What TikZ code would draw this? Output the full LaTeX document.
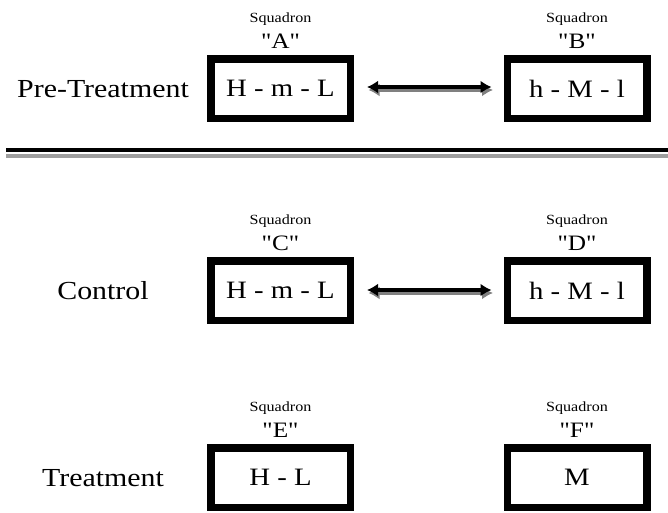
\documentclass[tikz,border=0pt]{standalone}
\usepackage{fontspec}
\setmainfont[FakeStretch=1.15, Ligatures=TeXOff]{Liberation Serif}
\usetikzlibrary{arrows.meta}
\tikzset{
  sqbox/.style={draw=black, line width=7.5pt, minimum width=139.5pt, minimum height=59.5pt, inner sep=0pt, font=\fontsize{25}{30}\selectfont},
  rowlabel/.style={anchor=base, inner sep=0pt, font=\fontsize{26}{30}\selectfont},
  sqname/.style={anchor=base, inner sep=0pt, font=\fontsize{14}{16}\selectfont},
  sqletter/.style={anchor=base, inner sep=0pt, font=\fontsize{22}{24}\selectfont},
  dblarrow/.style={line width=3.5pt, {Latex[length=11pt,width=13pt]}-{Latex[length=11pt,width=13pt]}, shorten <=13pt, shorten >=12pt},
  shadowarrow/.style={dblarrow, draw=black!50, fill=black!50, transform canvas={xshift=1.5pt, yshift=-3pt}}
}
\begin{document}
\begin{tikzpicture}[x=1pt, y=-1pt]
\useasboundingbox (0,0) rectangle (668,512);
% Pre-Treatment row
\node[rowlabel] (lpre) at (103,97) {Pre-Treatment};
\node[sqbox] (A) at (280.5,88.5) {H - m - L};
\node[sqbox] (B) at (577,88.5) {h - M - l};
\node[sqname] (sA) at (280.5,22) {Squadron};
\node[sqletter] (qA) at (280.5,48) {"A"};
\node[sqname] (sB) at (577,22) {Squadron};
\node[sqletter] (qB) at (577,48) {"B"};
\draw[shadowarrow] ([yshift=1.5pt]A.east) -- ([yshift=1.5pt]B.west);
\draw[dblarrow] ([yshift=1.5pt]A.east) -- ([yshift=1.5pt]B.west);
% separator
\coordinate (s1) at (6,150);
\coordinate (s2) at (668,150);
\coordinate (g1) at (6,155.5);
\coordinate (g2) at (668,155.5);
\draw[line width=4pt, black] (s1) -- (s2);
\draw[line width=4pt, black!38] (g1) -- (g2);
% Control row
\node[rowlabel] (lctl) at (103,299) {Control};
\node[sqbox] (C) at (280.5,290.5) {H - m - L};
\node[sqbox] (D) at (577,290.5) {h - M - l};
\node[sqname] (sC) at (280.5,224) {Squadron};
\node[sqletter] (qC) at (280.5,250) {"C"};
\node[sqname] (sD) at (577,224) {Squadron};
\node[sqletter] (qD) at (577,250) {"D"};
\draw[shadowarrow] ([yshift=0.5pt]C.east) -- ([yshift=0.5pt]D.west);
\draw[dblarrow] ([yshift=0.5pt]C.east) -- ([yshift=0.5pt]D.west);
% Treatment row
\node[rowlabel] (ltrt) at (103,486) {Treatment};
\node[sqbox] (E) at (280.5,477.5) {H - L};
\node[sqbox] (F) at (577,477.5) {M};
\node[sqname] (sE) at (280.5,411) {Squadron};
\node[sqletter] (qE) at (280.5,437) {"E"};
\node[sqname] (sF) at (577,411) {Squadron};
\node[sqletter] (qF) at (577,437) {"F"};
\end{tikzpicture}
\end{document}
